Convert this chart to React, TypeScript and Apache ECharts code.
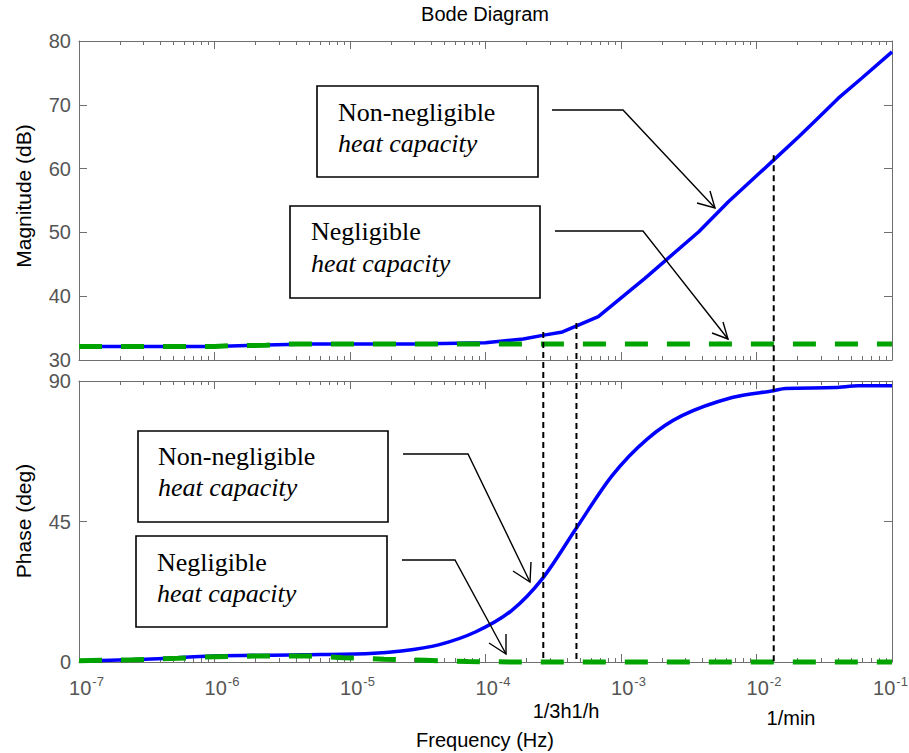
import React, { useEffect, useRef } from 'react';
import * as echarts from 'echarts';

// ---- data ----
const xMin = 1e-7;
const xMax = 1e-1;
const decadeTicks = [1e-7, 1e-6, 1e-5, 1e-4, 1e-3, 1e-2, 1e-1];

const magFreqNonNeg = [1e-7, 1e-6, 2e-6, 5e-6, 3e-5, 1e-4, 1.9e-4, 2.7e-4, 3.7e-4, 6.8e-4, 1.5e-3, 3.75e-3, 6.2e-3, 1.38e-2, 2.05e-2, 2.9e-2, 4.0e-2, 6.0e-2, 1e-1];
const magNonNeg = [32.1, 32.1, 32.3, 32.5, 32.5, 32.7, 33.3, 33.9, 34.4, 36.8, 42.8, 50.1, 54.8, 61.6, 65.0, 68.1, 71.0, 74.2, 78.3];

const magFreqNeg = [1e-7, 1e-6, 1.3e-6, 2.4e-6, 3.2e-6, 1e-1];
const magNeg = [32.1, 32.1, 32.25, 32.3, 32.5, 32.5];

const phaseFreqNonNeg = [1e-7, 3.1e-7, 1e-6, 4.5e-6, 1.4e-5, 2.4e-5, 4.5e-5, 8.5e-5, 1.55e-4, 2.63e-4, 4.65e-4, 8.6e-4, 1.56e-3, 2.82e-3, 6.6e-3, 1.34e-2, 1.63e-2, 3.8e-2, 5.66e-2, 1e-1];
const phaseNonNeg = [0.4, 0.9, 1.9, 2.3, 2.7, 3.5, 5.5, 9.7, 16.4, 26.7, 42.7, 59.7, 71.4, 78.9, 84.7, 86.9, 87.6, 87.9, 88.5, 88.5];

const phaseFreqNeg = [1e-7, 2.5e-7, 5.4e-7, 1e-6, 2e-6, 5e-6, 8.9e-6, 1.78e-5, 3.6e-5, 7.4e-5, 1.6e-4, 1e-1];
const phaseNeg = [0.4, 0.7, 1.2, 1.7, 1.9, 1.9, 1.4, 0.9, 0.55, 0.15, 0, 0];

// reference frequencies marked with dashed lines
const markerFreqs = [2.67e-4, 4.69e-4, 1.34e-2];
const markerTopDb = [34.4, 35.8, 62.1];

const magTicks = { min: 30, max: 80, interval: 10 };
const phaseTicks = { min: 0, max: 90, interval: 45 };

const SANS = '"Liberation Sans", Arial, Helvetica, sans-serif';
const SERIF = '"Liberation Serif", "Times New Roman", serif';
const AXIS_COLOR = '#6f6f6f';
const LABEL_COLOR = '#555555';

function zip(xs: number[], ys: number[]) {
  return xs.map((x, i) => [x, ys[i]]);
}

function minorValues() {
  const out: number[] = [];
  for (let d = 0; d < decadeTicks.length - 1; d++) {
    for (let k = 2; k <= 9; k++) out.push(decadeTicks[d] * k);
  }
  return out;
}

export default function App() {
  const ref = useRef<HTMLDivElement>(null);

  useEffect(() => {
    if (!ref.current) return;
    const chart = echarts.init(ref.current, undefined, { renderer: 'svg' });
    const minors = minorValues();

    const grids = [
      { left: 79, top: 41, width: 813, height: 319, outerBoundsMode: 'none', containLabel: false },
      { left: 79, top: 381, width: 813, height: 281, outerBoundsMode: 'none', containLabel: false },
    ];

    const xAxisBase = (gridIndex: number, position: string, minor: boolean, labels: boolean) => ({
      type: 'log',
      logBase: 10,
      gridIndex,
      min: xMin,
      max: xMax,
      position,
      axisLine: { show: !minor, lineStyle: { color: AXIS_COLOR, width: 1 } },
      axisTick: {
        show: true,
        inside: true,
        length: minor ? 4 : 8,
        lineStyle: { color: AXIS_COLOR, width: 1 },
        customValues: minor ? minors : decadeTicks,
      },
      axisLabel: labels
        ? {
            show: true,
            margin: 15,
            customValues: decadeTicks,
            formatter: (v: number) => {
              const e = Math.round(Math.log10(v));
              return v >= xMax ? `{b|10}{e|${e}}{q|}` : `{p|}{b|10}{e|${e}}`;
            },
            rich: {
              p: { width: 15 },
              q: { width: 3 },
              b: { fontSize: 20, fontFamily: SANS, color: LABEL_COLOR, lineHeight: 22 },
              e: { fontSize: 13, fontFamily: SANS, color: LABEL_COLOR, padding: [0, 0, 14, 1], lineHeight: 14 },
            },
          }
        : { show: false },
      splitLine: { show: false },
      minorTick: { show: false },
    });

    const xAxis = [
      xAxisBase(0, 'bottom', false, false),
      xAxisBase(0, 'bottom', true, false),
      xAxisBase(0, 'top', false, false),
      xAxisBase(0, 'top', true, false),
      xAxisBase(1, 'bottom', false, true),
      xAxisBase(1, 'bottom', true, false),
      xAxisBase(1, 'top', false, false),
      xAxisBase(1, 'top', true, false),
    ];

    const yAxisBase = (gridIndex: number, position: string, t: any, labels: boolean) => ({
      type: 'value',
      gridIndex,
      position,
      min: t.min,
      max: t.max,
      interval: t.interval,
      axisLine: { show: true, lineStyle: { color: AXIS_COLOR, width: 1 } },
      axisTick: { show: true, inside: true, length: 8, lineStyle: { color: AXIS_COLOR } },
      axisLabel: labels
        ? { show: true, margin: 8, fontSize: 20, fontFamily: SANS, color: LABEL_COLOR }
        : { show: false },
      splitLine: { show: false },
    });

    const yAxis = [
      yAxisBase(0, 'left', magTicks, true),
      yAxisBase(0, 'right', magTicks, false),
      yAxisBase(1, 'left', phaseTicks, true),
      yAxisBase(1, 'right', phaseTicks, false),
    ];

    const blue = '#0000ff';
    const green = '#00a300';

    const option: any = {
      animation: false,
      backgroundColor: '#ffffff',
      grid: grids,
      xAxis,
      yAxis,
      series: [
        {
          type: 'line', xAxisIndex: 0, yAxisIndex: 0, data: zip(magFreqNonNeg, magNonNeg),
          showSymbol: false, symbol: 'none', clip: false, lineStyle: { color: blue, width: 3.5 }, z: 3,
        },
        {
          type: 'line', xAxisIndex: 0, yAxisIndex: 0, data: zip(magFreqNeg, magNeg),
          showSymbol: false, symbol: 'none', clip: false, lineStyle: { color: green, width: 5, type: [23, 19] }, z: 4,
        },
        {
          type: 'line', xAxisIndex: 4, yAxisIndex: 2, data: zip(phaseFreqNonNeg, phaseNonNeg), smooth: 0.3,
          showSymbol: false, symbol: 'none', clip: false, lineStyle: { color: blue, width: 3.5 }, z: 3,
        },
        {
          type: 'line', xAxisIndex: 4, yAxisIndex: 2, data: zip(phaseFreqNeg, phaseNeg),
          showSymbol: false, symbol: 'none', clip: false, lineStyle: { color: green, width: 5, type: [23, 19] }, z: 4,
        },
      ],
    };

    chart.setOption(option);

    const graphics: any[] = [];

    // dashed marker lines from the magnitude curve down to 0 deg phase
    markerFreqs.forEach((f, i) => {
      const top = chart.convertToPixel({ xAxisIndex: 0, yAxisIndex: 0 }, [f, markerTopDb[i]]) as number[];
      const bot = chart.convertToPixel({ xAxisIndex: 4, yAxisIndex: 2 }, [f, 0]) as number[];
      graphics.push({
        type: 'line', z: 10, silent: true,
        shape: { x1: top[0], y1: top[1], x2: bot[0], y2: bot[1] },
        style: { stroke: '#000', lineWidth: 2, lineDash: [6, 4] },
      });
    });

    const txt = (text: string, x: number, y: number, extra: any = {}) => ({
      type: 'text', z: 20, silent: true, x, y,
      style: {
        text, fontSize: 20, fontFamily: SANS, fill: '#000',
        align: 'center', verticalAlign: 'middle', ...extra,
      },
    });

    graphics.push(txt('Bode Diagram', 485, 14));
    graphics.push({ ...txt('Magnitude (dB)', 0, 0, { fontSize: 21 }), x: 23, y: 196, rotation: Math.PI / 2 });
    graphics.push({ ...txt('Phase (deg)', 0, 0, { fontSize: 21 }), x: 23, y: 521, rotation: Math.PI / 2 });
    graphics.push(txt('Frequency (Hz)', 485, 740));
    graphics.push(txt('1/3h1/h', 566, 711));
    graphics.push(txt('1/min', 791, 718));

    // annotation boxes
    const boxes = [
      { x: 317, y: 86, w: 221, h: 91, tx: 338, l1: 'Non-negligible', y1: 112, y2: 143 },
      { x: 290, y: 206, w: 250, h: 92, tx: 311, l1: 'Negligible', y1: 231, y2: 263 },
      { x: 138, y: 431, w: 250, h: 91, tx: 158, l1: 'Non-negligible', y1: 456, y2: 487 },
      { x: 136, y: 536, w: 251, h: 91, tx: 157, l1: 'Negligible', y1: 562, y2: 593 },
    ];
    boxes.forEach((b) => {
      graphics.push({
        type: 'rect', z: 15, silent: true,
        shape: { x: b.x, y: b.y, width: b.w, height: b.h },
        style: { fill: '#ffffff', stroke: '#000', lineWidth: 1.6 },
      });
      graphics.push(txt(b.l1, b.tx, b.y1, { fontFamily: SERIF, fontSize: 26, align: 'left' }));
      graphics.push(txt('heat capacity', b.tx, b.y2, { fontFamily: SERIF, fontSize: 26, fontStyle: 'italic', align: 'left' }));
    });

    // arrows: leader [start, corner, tip], head [p1, tip, p2]
    const arrows = [
      { pts: [[552, 110], [623, 110], [715, 208]], head: [[697, 203], [715, 208], [710, 191]] },
      { pts: [[555, 231], [643, 231], [728, 339]], head: [[712, 333], [728, 339], [723, 322]] },
      { pts: [[403, 454], [468, 454], [530, 582]], head: [[513, 571], [530, 582], [531, 562]] },
      { pts: [[402, 560], [455, 560], [506, 654]], head: [[489, 643], [506, 654], [506, 634]] },
    ];
    arrows.forEach((a) => {
      graphics.push({
        type: 'polyline', z: 16, silent: true,
        shape: { points: a.pts }, style: { stroke: '#000', lineWidth: 1.4, fill: 'none' },
      });
      graphics.push({
        type: 'polyline', z: 16, silent: true,
        shape: { points: a.head }, style: { stroke: '#000', lineWidth: 1.4, fill: 'none' },
      });
    });

    chart.setOption({ graphic: graphics });

    return () => chart.dispose();
  }, []);

  return <div ref={ref} style={{ width: 909, height: 753, position: 'absolute', left: 0, top: 0 }} />;
}
